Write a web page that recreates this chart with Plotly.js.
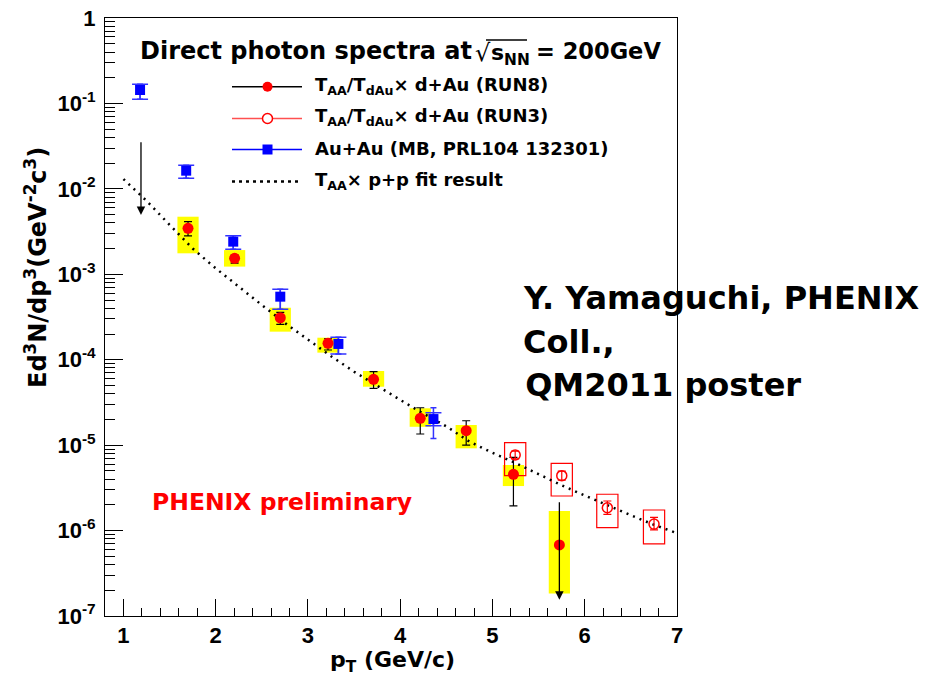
<!DOCTYPE html>
<html><head><meta charset="utf-8">
<script src="https://cdn.plot.ly/plotly-3.0.1.min.js"></script>
<style>html,body{margin:0;padding:0;background:#fff}</style>
</head><body><div id="chart" style="width:936px;height:678px"></div>
<script>
// ---- RUN8: T_AA/T_dAu x d+Au (filled red, yellow systematics)
const run8Pt    = [1.70, 2.205, 2.70, 3.217, 3.711, 4.217, 4.715, 5.227, 5.725];
const run8Y     = [3.45e-3, 1.54e-3, 3.10e-4, 1.556e-4, 5.9e-5, 2.06e-5, 1.476e-5, 4.56e-6, 6.8e-7];
const run8StatHi= [4.13e-3, 1.68e-3, 3.59e-4, 1.76e-4, 7.24e-5, 2.74e-5, 1.93e-5, 7.2e-6, 6.8e-7];
const run8StatLo= [2.81e-3, 1.35e-3, 2.59e-4, 1.30e-4, 4.62e-5, 1.35e-5, 1.00e-5, 1.95e-6, 6.8e-7];
const run8SysHi = [4.72e-3, 1.92e-3, 4.06e-4, 1.81e-4, 7.38e-5, 2.70e-5, 1.72e-5, 5.86e-6, 1.69e-6];
const run8SysLo = [1.76e-3, 1.23e-3, 2.13e-4, 1.21e-4, 4.83e-5, 1.64e-5, 9.18e-6, 3.32e-6, 1.84e-7];
// ---- RUN3: T_AA/T_dAu x d+Au (open red, red boxes)
const run3Pt    = [5.246, 5.751, 6.245, 6.751];
const run3Y     = [7.67e-6, 4.39e-6, 1.85e-6, 1.19e-6];
const run3StatHi= [8.5e-6, 4.96e-6, 2.22e-6, 1.43e-6];
const run3StatLo= [6.9e-6, 3.89e-6, 1.55e-6, 1.02e-6];
const run3SysHi = [1.07e-5, 6.12e-6, 2.66e-6, 1.74e-6];
const run3SysLo = [4.39e-6, 2.54e-6, 1.08e-6, 6.97e-7];
// ---- Au+Au MB (PRL104 132301)
const auPt      = [1.18, 1.68, 2.19, 2.70, 3.33, 4.36];
const auY       = [0.1436, 0.01632, 2.41e-3, 5.47e-4, 1.53e-4, 2.02e-5];
const auStatHi  = [0.1675, 0.01887, 2.83e-3, 6.67e-4, 1.83e-4, 2.74e-5];
const auStatLo  = [0.1117, 0.0133, 1.96e-3, 3.89e-4, 1.17e-4, 1.20e-5];
const auSysHi   = [0.1675, 0.01887, 2.83e-3, 6.67e-4, 1.83e-4, 2.40e-5];
const auSysLo   = [0.1117, 0.0133, 1.96e-3, 3.89e-4, 1.17e-4, 1.69e-5];
// ---- T_AA x p+p fit result
const fitPt = [1.0,1.25,1.5,1.75,2.0,2.25,2.5,2.75,3.0,3.25,3.5,3.75,4.0,4.25,4.5,4.75,5.0,5.25,5.5,5.75,6.0,6.25,6.5,6.75,7.0];
const fitY  = [1.303e-2,7.24e-3,3.80e-3,2.00e-3,1.175e-3,7.08e-4,4.37e-4,2.69e-4,1.70e-4,1.10e-4,7.24e-5,4.90e-5,3.39e-5,2.34e-5,1.66e-5,1.10e-5,8.13e-6,6.17e-6,4.57e-6,3.39e-6,2.57e-6,1.95e-6,1.51e-6,1.17e-6,9.33e-7];
// ---- upper-limit arrows (x, from, to)
const limPt   = [1.19, 5.725];
const limFrom = [3.66e-2, 2.24e-6];
const limTo   = [4.94e-3, 1.55e-7];
// ---- axis ticks
const yTickVals = [1, 1e-1, 1e-2, 1e-3, 1e-4, 1e-5, 1e-6, 1e-7];
const yTickText = ['1','10<sup>-1</sup>','10<sup>-2</sup>','10<sup>-3</sup>','10<sup>-4</sup>','10<sup>-5</sup>','10<sup>-6</sup>','10<sup>-7</sup>'];

const sub = (a,b)=>a.map((v,i)=>v-b[i]);
const L=105,R=677,T=18,B=616;
const px = v=>(v-L)/(R-L), py = v=>(B-v)/(B-T);
const DJ = {family:'DejaVu Sans, Arial', weight:'bold', color:'#000'};
const AR = {family:'Liberation Sans, Arial', weight:'bold', color:'#000'};

const traces = [
  {type:'bar', x:run8Pt, base:run8SysLo, y:sub(run8SysHi,run8SysLo), width:0.23,
   marker:{color:'#ffff00', line:{width:0}}, hoverinfo:'skip', showlegend:false},
  {type:'bar', x:run3Pt, base:run3SysLo, y:sub(run3SysHi,run3SysLo), width:0.23,
   marker:{color:'rgba(0,0,0,0)', line:{width:1.2, color:'#ff0000'}}, hoverinfo:'skip', showlegend:false},
  {type:'scatter', mode:'lines', x:fitPt, y:fitY, line:{color:'#000', width:2.5, dash:'2px,5px'}, showlegend:false},
  {type:'scatter', mode:'markers', x:auPt, y:auY, marker:{size:1, color:'rgba(0,0,0,0)'},
   error_y:{type:'data', symmetric:false, array:sub(auSysHi,auY), arrayminus:sub(auY,auSysLo), color:'#3333ff', thickness:1.5, width:8}, showlegend:false},
  {type:'scatter', mode:'markers', x:auPt, y:auY, marker:{symbol:'square', size:10, color:'#0000ff'},
   error_y:{type:'data', symmetric:false, array:sub(auStatHi,auY), arrayminus:sub(auY,auStatLo), color:'#3333ff', thickness:1.5, width:3}, showlegend:false},
  {type:'scatter', mode:'markers', x:run8Pt, y:run8Y, marker:{symbol:'circle', size:11, color:'#ff0000'},
   error_y:{type:'data', symmetric:false, array:sub(run8StatHi,run8Y), arrayminus:sub(run8Y,run8StatLo), color:'#000', thickness:1.2, width:4}, showlegend:false},
  {type:'scatter', mode:'markers', x:run3Pt, y:run3Y, marker:{symbol:'circle-open', size:10, color:'#ff0000', line:{width:1.5}},
   error_y:{type:'data', symmetric:false, array:sub(run3StatHi,run3Y), arrayminus:sub(run3Y,run3StatLo), color:'#ff0000', thickness:1.2, width:4}, showlegend:false}
];

const ann = [];
const shapes = [];
// upper limit arrows
limPt.forEach((x,i)=>{
  ann.push({x:x, y:Math.log10(limTo[i]), ax:x, ay:Math.log10(limFrom[i]), axref:'x', ayref:'y', xref:'x', yref:'y',
    text:'', showarrow:true, arrowhead:2, arrowsize:1.3, arrowwidth:1.3, arrowcolor:'#000', standoff:0});
});
// axis titles
ann.push({xref:'paper', yref:'paper', x:px(36), y:py(268), textangle:-90, showarrow:false, xanchor:'center', yanchor:'middle',
  text:'Ed<sup>3</sup>N/dp<sup>3</sup>(GeV<sup>-2</sup>c<sup>3</sup>)', font:Object.assign({size:24},DJ)});
ann.push({xref:'paper', yref:'paper', x:px(457), y:py(661), showarrow:false, xanchor:'right', yanchor:'middle',
  text:'p<sub>T</sub> (GeV/c)', font:Object.assign({size:22},DJ)});
// legend title
ann.push({xref:'paper', yref:'paper', x:px(138), y:py(51), showarrow:false, xanchor:'left', yanchor:'middle',
  text:'Direct photon spectra at', font:Object.assign({size:24},DJ)});
ann.push({xref:'paper', yref:'paper', x:px(473), y:py(53), showarrow:false, xanchor:'left', yanchor:'middle',
  text:'√', font:{family:'DejaVu Sans', size:24, color:'#000'}});
ann.push({xref:'paper', yref:'paper', x:px(489), y:py(55), showarrow:false, xanchor:'left', yanchor:'middle',
  text:'s<sub>NN</sub>', font:Object.assign({size:22},DJ)});
ann.push({xref:'paper', yref:'paper', x:px(534), y:py(51), showarrow:false, xanchor:'left', yanchor:'middle',
  text:'= 200GeV', font:Object.assign({size:22.5},DJ)});
shapes.push({type:'line', xref:'paper', yref:'paper', x0:px(486), x1:px(527), y0:py(40), y1:py(40), line:{color:'#000', width:1.5}});
// legend rows
const rowsY = [86.7, 118.5, 149.5, 181.5];
const rowText = ['T<sub>AA</sub>/T<sub>dAu</sub>× d+Au (RUN8)', 'T<sub>AA</sub>/T<sub>dAu</sub>× d+Au (RUN3)',
                 'Au+Au (MB, PRL104 132301)', 'T<sub>AA</sub>× p+p fit result'];
const rowLine = [{color:'#000', width:1.5}, {color:'#ff5050', width:1.5}, {color:'#0000ff', width:1.5}, {color:'#000', width:2.5, dash:'3px,4px'}];
rowsY.forEach((yy,i)=>{
  shapes.push({type:'line', xref:'paper', yref:'paper', x0:px(232), x1:px(302), y0:py(yy), y1:py(yy), line:rowLine[i]});
  ann.push({xref:'paper', yref:'paper', x:px(313), y:py(yy-1), showarrow:false, xanchor:'left', yanchor:'middle',
    text:rowText[i], font:Object.assign({size:18},DJ)});
});
const mk = (i, type, fill, line)=>({type:type, xref:'paper', yref:'paper', xsizemode:'pixel', ysizemode:'pixel',
  xanchor:px(267.5), yanchor:py(rowsY[i]), x0:-5, x1:5, y0:-5, y1:5, fillcolor:fill, line:line});
shapes.push(mk(0,'circle','#ff0000',{width:0}));
shapes.push(mk(1,'circle','#ffffff',{color:'#ff0000', width:1.5}));
shapes.push(mk(2,'rect','#0000ff',{width:0}));
// other texts
ann.push({xref:'paper', yref:'paper', x:px(150), y:py(502), showarrow:false, xanchor:'left', yanchor:'middle',
  text:'PHENIX preliminary', font:{family:'DejaVu Sans, Arial', weight:'bold', size:23.5, color:'#ff0000'}});
const credit = ['Y. Yamaguchi, PHENIX', 'Coll.,', ' QM2011 poster'];
const creditX = [521, 521, 512];
const creditY = [298, 342, 385];
credit.forEach((t,i)=>ann.push({xref:'paper', yref:'paper', x:px(creditX[i]), y:py(creditY[i]), showarrow:false, xanchor:'left', yanchor:'middle',
  text:t, font:{family:'DejaVu Sans', weight:'bold', size:32, color:'#000'}}));

const layout = {
  width:936, height:678, margin:{l:L, r:936-R, t:T, b:678-B, pad:0},
  paper_bgcolor:'#fff', plot_bgcolor:'#fff', showlegend:false, barmode:'overlay',
  xaxis:{range:[0.8,7], tickmode:'linear', tick0:0, dtick:1, ticks:'inside', ticklen:17, tickwidth:1, tickcolor:'#000',
    minor:{ticks:'inside', ticklen:8, tickmode:'linear', tick0:0, dtick:0.2, tickcolor:'#000', tickwidth:1, showgrid:false},
    showline:true, mirror:true, linecolor:'#000', linewidth:1, showgrid:false, zeroline:false,
    tickfont:Object.assign({size:22},AR), ticklabelstandoff:0},
  yaxis:{type:'log', range:[-7,0], tickmode:'array', tickvals:yTickVals, ticktext:yTickText, ticks:'inside', ticklen:18, tickwidth:1, tickcolor:'#000',
    minor:{ticks:'inside', ticklen:10, tickmode:'linear', tick0:0, dtick:'D1', tickcolor:'#000', tickwidth:1, showgrid:false},
    showline:true, mirror:true, linecolor:'#000', linewidth:1, showgrid:false, zeroline:false,
    tickfont:Object.assign({size:22},AR), ticklabelstandoff:4},
  annotations:ann, shapes:shapes
};
Plotly.newPlot('chart', traces, layout, {staticPlot:true});
</script></body></html>
